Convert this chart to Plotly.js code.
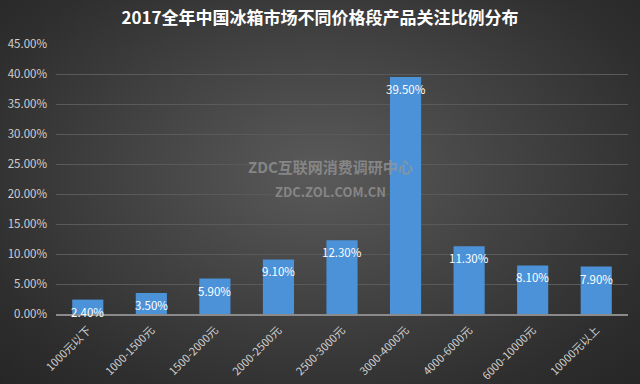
<!DOCTYPE html>
<html><head><meta charset="utf-8">
<script src="https://cdn.plot.ly/plotly-3.0.1.min.js"></script>
<style>
html,body{margin:0;padding:0;}
#chart{width:640px;height:384px;background:radial-gradient(ellipse at 50% 45%, #5a5a5a 0%, #444 40%, #2e2e2e 80%, #262626 100%);}
</style></head>
<body><div id="chart"></div>
<script>
const categories = ['1000元以下','1000-1500元','1500-2000元','2000-2500元','2500-3000元','3000-4000元','4000-6000元','6000-10000元','10000元以上'];
const values = [2.4, 3.5, 5.9, 9.1, 12.3, 39.5, 11.3, 8.1, 7.9];
const labels = values.map(v => v.toFixed(2) + '%');
const yTicks = [0,5,10,15,20,25,30,35,40,45];
const yTickText = yTicks.map(v => v.toFixed(2) + '%');

const font = '"Noto Sans CJK SC", "Noto Sans", sans-serif';
const trace = {type:'bar', x:categories, y:values, marker:{color:'#4b92d8', line:{width:0}}, hoverinfo:'none'};

const annotations = categories.map((c,i)=>({x:c, y:values[i], xref:'x', yref:'y', text:labels[i], showarrow:false, yanchor:'top', yshift:-2, font:{family:font, size:11.5, color:'#ffffff'}}));
annotations.push({xref:'paper', yref:'paper', x:0.48, y:0.545, text:'<b>ZDC互联网消费调研中心</b>', showarrow:false, font:{family:font, size:15, color:'rgba(150,150,150,0.75)'}});
annotations.push({xref:'paper', yref:'paper', x:0.48, y:0.455, text:'<b>ZDC.ZOL.COM.CN</b>', showarrow:false, font:{family:font, size:13, color:'rgba(150,150,150,0.75)'}});

const layout = {
  width:640, height:384,
  paper_bgcolor:'rgba(0,0,0,0)', plot_bgcolor:'rgba(0,0,0,0)',
  margin:{l:56, r:12, t:44, b:70},
  title:{text:'<b>2017全年中国冰箱市场不同价格段产品关注比例分布</b>', x:0.5, xanchor:'center', y:0.952, yanchor:'middle', font:{family:font, size:17, color:'#ffffff'}},
  bargap:0.51,
  showlegend:false,
  xaxis:{type:'category', tickangle:-45, tickfont:{family:font, size:11, color:'#d0d0d0'}, ticklabelstandoff:4, showline:true, linecolor:'#8a8a8a', linewidth:1.5, ticks:'', showgrid:false, fixedrange:true},
  yaxis:{range:[0,45], tickvals:yTicks, ticktext:yTickText, tickfont:{family:font, size:11.5, color:'#d0d0d0'}, ticklabelstandoff:8, gridcolor:'#5a5a5a', gridwidth:1, zeroline:false, showline:false, ticks:'', fixedrange:true},
  annotations:annotations,
  font:{family:font}
};
Plotly.newPlot('chart', [trace], layout, {displayModeBar:false, staticPlot:true});
</script></body></html>
